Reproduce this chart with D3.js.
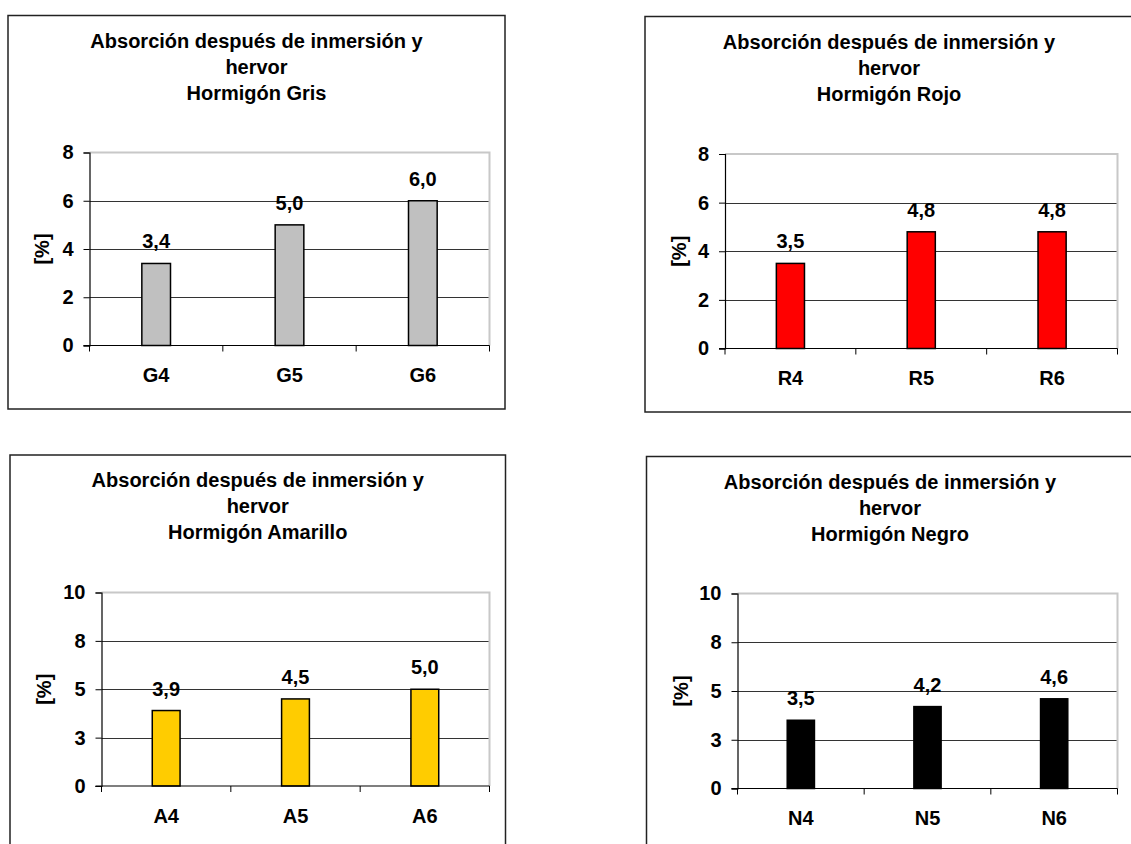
<!DOCTYPE html>
<html>
<head>
<meta charset="utf-8">
<script src="https://cdn.jsdelivr.net/npm/d3@7/dist/d3.min.js"></script>
<style>
  html, body { margin: 0; padding: 0; background: #fff; }
  svg { display: block; }
  text { font-family: "Liberation Sans", Arial, sans-serif; font-weight: bold; fill: #000; }
</style>
</head>
<body>
<svg id="chart" width="1131" height="844"></svg>
<script>
// ---------------- Data ----------------
const titleLine1 = "Absorción después de inmersión y";
const titleLine2 = "hervor";
const yAxisLabel = "[%]";

const catsGris = ["G4", "G5", "G6"];
const valsGris = [3.4, 5.0, 6.0];

const catsRojo = ["R4", "R5", "R6"];
const valsRojo = [3.5, 4.8, 4.8];

const catsAmarillo = ["A4", "A5", "A6"];
const valsAmarillo = [3.9, 4.5, 5.0];

const catsNegro = ["N4", "N5", "N6"];
const valsNegro = [3.5, 4.2, 4.6];

const ticksTop = [0, 2, 4, 6, 8];
const tickLabelsTop = ["0", "2", "4", "6", "8"];
const ticksBottom = [0, 2.5, 5, 7.5, 10];
const tickLabelsBottom = ["0", "3", "5", "8", "10"];

const subtitles = ["Hormigón Gris", "Hormigón Rojo", "Hormigón Amarillo", "Hormigón Negro"];
const barColors = ["#C0C0C0", "#FF0000", "#FFCC00", "#000000"];

// ---------------- Layout ----------------
const panels = [
  { cats: catsGris, vals: valsGris, ticks: ticksTop, tickLabels: tickLabelsTop, sub: subtitles[0], color: barColors[0],
    frame: {x: 8, y: 15.5, w: 497, h: 393.5}, plot: {x: 89.5, y: 152.5, w: 400, h: 193} },
  { cats: catsRojo, vals: valsRojo, ticks: ticksTop, tickLabels: tickLabelsTop, sub: subtitles[1], color: barColors[1],
    frame: {x: 645, y: 16.5, w: 488, h: 395.5}, plot: {x: 725, y: 154, w: 392.5, h: 194.5} },
  { cats: catsAmarillo, vals: valsAmarillo, ticks: ticksBottom, tickLabels: tickLabelsBottom, sub: subtitles[2], color: barColors[2],
    frame: {x: 10, y: 455, w: 495.5, h: 420}, plot: {x: 101.5, y: 592.5, w: 388, h: 193.5} },
  { cats: catsNegro, vals: valsNegro, ticks: ticksBottom, tickLabels: tickLabelsBottom, sub: subtitles[3], color: barColors[3],
    frame: {x: 646.5, y: 456.5, w: 487, h: 420}, plot: {x: 737.5, y: 593.5, w: 380, h: 195} }
];

const fmt = d3.formatLocale({decimal: ",", thousands: ".", grouping: [3], currency: ["", ""]}).format(".1f");
const FONT = 20;

const svg = d3.select("#chart");

panels.forEach(p => {
  const g = svg.append("g");
  const f = p.frame, pl = p.plot;

  // frame
  g.append("rect").attr("x", f.x).attr("y", f.y).attr("width", f.w).attr("height", f.h)
    .attr("fill", "#fff").attr("stroke", "#222").attr("stroke-width", 1.5);

  // title
  const cx = f.x + f.w / 2;
  [titleLine1, titleLine2, p.sub].forEach((t, i) => {
    g.append("text").attr("x", cx).attr("y", f.y + 32 + i * 26)
      .attr("text-anchor", "middle").attr("font-size", FONT).text(t);
  });

  // scales
  const yMax = d3.max(p.ticks);
  const y = d3.scaleLinear().domain([0, yMax]).range([pl.y + pl.h, pl.y]);
  const x = d3.scaleBand().domain(p.cats).range([pl.x, pl.x + pl.w]).padding(0);

  // gridlines (excluding 0 and max)
  g.append("g").selectAll("line").data(p.ticks.filter(t => t > 0 && t < yMax)).join("line")
    .attr("x1", pl.x).attr("x2", pl.x + pl.w)
    .attr("y1", d => Math.round(y(d)) + 0.5).attr("y2", d => Math.round(y(d)) + 0.5)
    .attr("stroke", "#333").attr("stroke-width", 1);

  // plot area border (top & right, gray)
  g.append("path")
    .attr("d", `M${pl.x},${pl.y}H${pl.x + pl.w}V${pl.y + pl.h}`)
    .attr("fill", "none").attr("stroke", "#C8C8C8").attr("stroke-width", 2);

  // bars
  const bw = x.bandwidth() * 0.215;
  g.append("g").selectAll("rect").data(p.vals).join("rect")
    .attr("x", (d, i) => x(p.cats[i]) + x.bandwidth() / 2 - bw / 2)
    .attr("y", d => y(d))
    .attr("width", bw)
    .attr("height", d => y(0) - y(d))
    .attr("fill", p.color).attr("stroke", "#000").attr("stroke-width", 1.5);

  // data labels
  g.append("g").selectAll("text").data(p.vals).join("text")
    .attr("x", (d, i) => x(p.cats[i]) + x.bandwidth() / 2)
    .attr("y", d => y(d) - 15)
    .attr("text-anchor", "middle").attr("font-size", FONT)
    .text(d => fmt(d));

  // y axis
  const yAxis = d3.axisLeft(y).tickValues(p.ticks)
    .tickFormat((d, i) => p.tickLabels[i]).tickSize(6).tickPadding(10);
  const ya = g.append("g").attr("transform", `translate(${pl.x},0)`).call(yAxis);
  ya.select(".domain").attr("stroke", "#000").attr("stroke-width", 1.2);
  ya.selectAll(".tick line").attr("stroke", "#000");
  ya.selectAll(".tick text").attr("font-size", FONT).attr("font-family", null).attr("fill", "#000");
  ya.attr("font-family", null);

  // x axis line
  g.append("line").attr("x1", pl.x - 6).attr("x2", pl.x + pl.w)
    .attr("y1", y(0)).attr("y2", y(0)).attr("stroke", "#000").attr("stroke-width", 1.2);
  // x boundary ticks
  const bounds = p.cats.map(c => x(c)).concat([x(p.cats[p.cats.length - 1]) + x.bandwidth()]);
  g.append("g").selectAll("line").data(bounds).join("line")
    .attr("x1", d => d).attr("x2", d => d)
    .attr("y1", y(0)).attr("y2", y(0) + 6)
    .attr("stroke", "#000").attr("stroke-width", 1);
  // category labels
  g.append("g").selectAll("text").data(p.cats).join("text")
    .attr("x", d => x(d) + x.bandwidth() / 2)
    .attr("y", y(0) + 36.5)
    .attr("text-anchor", "middle").attr("font-size", FONT).text(d => d);

  // y axis title
  const ly = pl.y + pl.h / 2;
  const lx = f.x + 34;
  g.append("text").attr("transform", `translate(${lx},${ly}) rotate(-90)`)
    .attr("text-anchor", "middle").attr("dy", "0.35em").attr("font-size", FONT).text(yAxisLabel);
});
</script>
</body>
</html>
